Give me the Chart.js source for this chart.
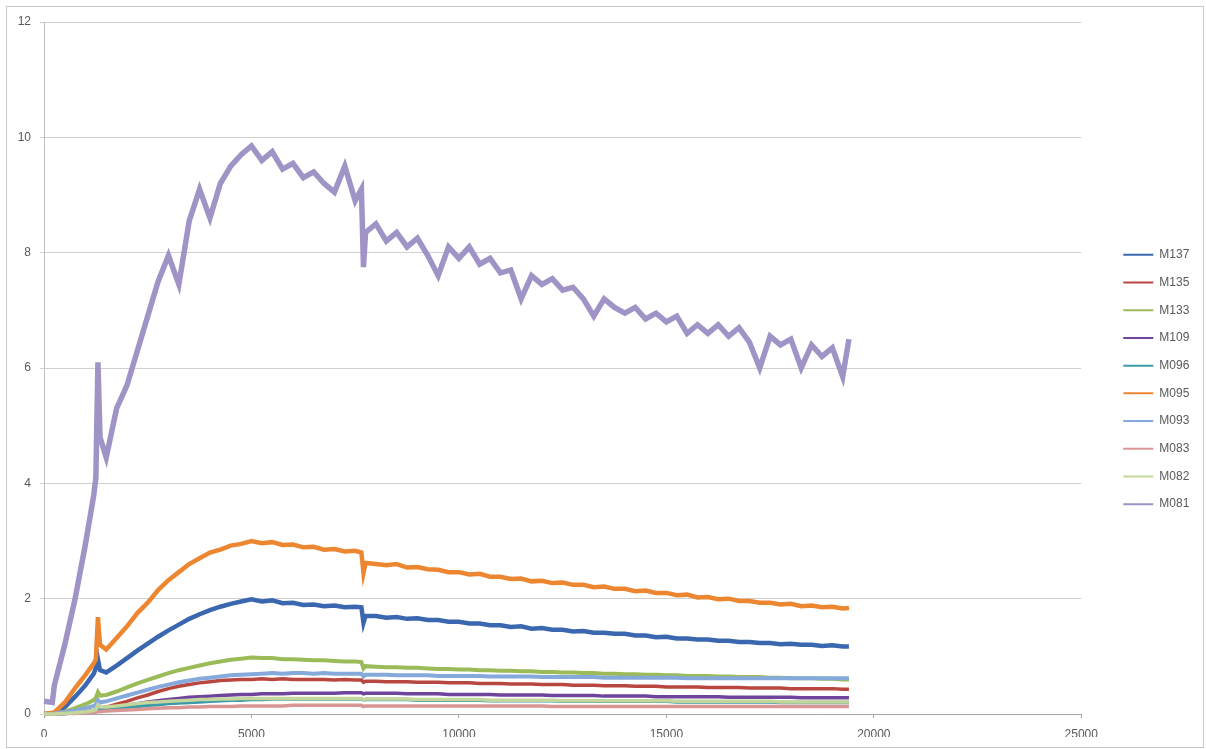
<!DOCTYPE html>
<html>
<head>
<meta charset="utf-8">
<script src="https://cdn.jsdelivr.net/npm/chart.js@4.4.1/dist/chart.umd.min.js"></script>
<style>
  html, body { margin: 0; padding: 0; background: #fff; }
  #frame { position: absolute; left: 6px; top: 6px; width: 1196px; height: 740px; border: 1px solid #c8c8c8; }
  #wrap { position: absolute; left: 0; top: 0; width: 1206px; height: 749px; }
</style>
</head>
<body>
<div id="frame"></div>
<div id="wrap"><canvas id="chart"></canvas></div>
<script>
// sample positions (x axis), shared by every series
const xs = [
  0, 200, 250, 500, 750, 1000, 1200, 1250, 1300, 1350,
  1500, 1750, 2000, 2250, 2500, 2750, 3000, 3250, 3500, 3750, 4000, 4250, 4500, 4750, 5000, 5250, 5500, 5750, 6000, 6250, 6500, 6750, 7000, 7250, 7500,
  7650, 7700, 7750, 8000, 8250, 8500, 8750, 9000, 9250, 9500, 9750, 10000, 10250, 10500, 10750, 11000, 11250, 11500, 11750, 12000, 12250, 12500, 12750, 13000, 13250, 13500,
  13750, 14000, 14250, 14500, 14750, 15000, 15250, 15500, 15750, 16000, 16250, 16500, 16750, 17000, 17250, 17500, 17750, 18000, 18250, 18500, 18750, 19000, 19250, 19400
];

const m137 = [
  0, 0.01, 0.02, 0.12, 0.3, 0.5, 0.7, 0.8, 0.95, 0.76,
  0.72, 0.84, 0.97, 1.1, 1.22, 1.34, 1.45, 1.55, 1.65, 1.73, 1.8, 1.86, 1.91, 1.95, 1.99, 1.95, 1.97, 1.92, 1.93, 1.89, 1.9, 1.87, 1.88, 1.85, 1.86,
  1.85, 1.58, 1.7, 1.7, 1.67, 1.68, 1.65, 1.66, 1.63, 1.63, 1.6, 1.6, 1.57, 1.57, 1.54, 1.54, 1.51, 1.52, 1.48, 1.49, 1.46, 1.46, 1.43, 1.44, 1.41, 1.41,
  1.39, 1.39, 1.36, 1.36, 1.33, 1.34, 1.31, 1.31, 1.29, 1.29, 1.27, 1.27, 1.25, 1.25, 1.23, 1.23, 1.21, 1.22, 1.2, 1.2, 1.18, 1.19, 1.17, 1.17
];
const m135 = [
  0, 0, 0, 0.01, 0.02, 0.04, 0.06, 0.08, 0.12, 0.1,
  0.12, 0.17, 0.22, 0.28, 0.33, 0.39, 0.44, 0.48, 0.51, 0.54, 0.56, 0.58, 0.59, 0.6, 0.6, 0.61, 0.6, 0.61, 0.6, 0.6, 0.6, 0.6, 0.59, 0.6, 0.59,
  0.59, 0.55, 0.57, 0.57, 0.56, 0.56, 0.56, 0.55, 0.55, 0.55, 0.54, 0.54, 0.54, 0.53, 0.53, 0.53, 0.52, 0.52, 0.52, 0.51, 0.51, 0.51, 0.5, 0.5, 0.5, 0.49,
  0.49, 0.49, 0.48, 0.48, 0.48, 0.47, 0.47, 0.47, 0.47, 0.46, 0.46, 0.46, 0.46, 0.45, 0.45, 0.45, 0.45, 0.44, 0.44, 0.44, 0.44, 0.44, 0.43, 0.43
];
const m133 = [
  0, 0, 0.01, 0.04, 0.1, 0.17, 0.24, 0.28, 0.38, 0.32,
  0.33, 0.39, 0.46, 0.53, 0.59, 0.65, 0.71, 0.76, 0.8, 0.84, 0.88, 0.91, 0.94, 0.96, 0.98, 0.97, 0.97, 0.95, 0.95, 0.94, 0.93, 0.93, 0.92, 0.91, 0.91,
  0.9, 0.79, 0.83, 0.82, 0.81, 0.81, 0.8, 0.8, 0.79, 0.78, 0.78, 0.77, 0.77, 0.76, 0.76, 0.75, 0.75, 0.74, 0.74, 0.73, 0.73, 0.72, 0.72, 0.71, 0.71, 0.7,
  0.7, 0.69, 0.69, 0.68, 0.68, 0.67, 0.67, 0.66, 0.66, 0.66, 0.65, 0.65, 0.64, 0.64, 0.64, 0.63, 0.63, 0.62, 0.62, 0.62, 0.61, 0.61, 0.6, 0.6
];
const m109 = [
  0, 0, 0, 0.01, 0.02, 0.03, 0.05, 0.06, 0.09, 0.08,
  0.09, 0.12, 0.15, 0.18, 0.21, 0.23, 0.25, 0.27, 0.29, 0.3, 0.31, 0.32, 0.33, 0.34, 0.34, 0.35, 0.35, 0.35, 0.36, 0.36, 0.36, 0.36, 0.36, 0.37, 0.37,
  0.37, 0.35, 0.36, 0.36, 0.36, 0.36, 0.35, 0.35, 0.35, 0.35, 0.34, 0.34, 0.34, 0.34, 0.34, 0.33, 0.33, 0.33, 0.33, 0.33, 0.32, 0.32, 0.32, 0.32, 0.32, 0.31,
  0.31, 0.31, 0.31, 0.31, 0.3, 0.3, 0.3, 0.3, 0.3, 0.3, 0.3, 0.29, 0.29, 0.29, 0.29, 0.29, 0.29, 0.29, 0.28, 0.28, 0.28, 0.28, 0.28, 0.28
];
const m096 = [
  0, 0, 0, 0.01, 0.02, 0.03, 0.04, 0.05, 0.07, 0.06,
  0.07, 0.09, 0.11, 0.13, 0.15, 0.16, 0.18, 0.19, 0.2, 0.21, 0.22, 0.23, 0.24, 0.24, 0.25, 0.25, 0.26, 0.26, 0.26, 0.26, 0.26, 0.26, 0.26, 0.26, 0.26,
  0.26, 0.24, 0.25, 0.25, 0.25, 0.25, 0.25, 0.24, 0.24, 0.24, 0.24, 0.24, 0.24, 0.24, 0.23, 0.23, 0.23, 0.23, 0.23, 0.23, 0.23, 0.22, 0.22, 0.22, 0.22, 0.22,
  0.22, 0.22, 0.22, 0.22, 0.22, 0.22, 0.21, 0.21, 0.21, 0.21, 0.21, 0.21, 0.21, 0.21, 0.21, 0.21, 0.2, 0.2, 0.2, 0.2, 0.2, 0.2, 0.2, 0.2
];
const m095 = [
  0, 0.02, 0.03, 0.2, 0.45, 0.68, 0.88, 0.95, 1.68, 1.2,
  1.12, 1.32, 1.52, 1.75, 1.93, 2.15, 2.32, 2.46, 2.6, 2.7, 2.8, 2.85, 2.92, 2.95, 3.0, 2.96, 2.98, 2.93, 2.94, 2.89, 2.9, 2.85, 2.86, 2.82, 2.83,
  2.8, 2.45, 2.62, 2.6, 2.58, 2.6, 2.54, 2.55, 2.51, 2.5, 2.46, 2.46, 2.42, 2.43, 2.38, 2.38, 2.34, 2.35, 2.3, 2.31, 2.27, 2.28, 2.24, 2.24, 2.2, 2.21,
  2.17, 2.17, 2.13, 2.14, 2.1, 2.1, 2.06, 2.07, 2.02, 2.03, 1.99, 2.0, 1.96, 1.96, 1.93, 1.93, 1.9, 1.91, 1.87, 1.88, 1.85, 1.86, 1.83, 1.84
];
const m093 = [
  0, 0, 0.01, 0.03, 0.06, 0.1, 0.14, 0.17, 0.24, 0.2,
  0.22, 0.27, 0.32, 0.37, 0.42, 0.47, 0.51, 0.55, 0.58, 0.61, 0.63, 0.65, 0.67, 0.68, 0.69, 0.7, 0.71, 0.7, 0.71, 0.71, 0.7, 0.71, 0.7, 0.7, 0.7,
  0.7, 0.65, 0.68, 0.68, 0.68, 0.67, 0.67, 0.67, 0.67, 0.66, 0.66, 0.66, 0.66, 0.66, 0.65, 0.65, 0.65, 0.65, 0.65, 0.64, 0.64, 0.64, 0.64, 0.64, 0.64, 0.63,
  0.63, 0.63, 0.63, 0.63, 0.63, 0.63, 0.63, 0.62, 0.62, 0.62, 0.62, 0.62, 0.62, 0.62, 0.62, 0.62, 0.62, 0.62, 0.62, 0.62, 0.62, 0.62, 0.62, 0.62
];
const m083 = [
  0, 0, 0, 0.01, 0.01, 0.02, 0.03, 0.03, 0.05, 0.04,
  0.05, 0.06, 0.07, 0.08, 0.09, 0.1, 0.11, 0.11, 0.12, 0.12, 0.13, 0.13, 0.13, 0.14, 0.14, 0.14, 0.14, 0.14, 0.15, 0.15, 0.15, 0.15, 0.15, 0.15, 0.15,
  0.15, 0.13, 0.14, 0.14, 0.14, 0.14, 0.14, 0.14, 0.14, 0.14, 0.14, 0.14, 0.14, 0.14, 0.14, 0.14, 0.14, 0.14, 0.14, 0.14, 0.13, 0.13, 0.13, 0.13, 0.13, 0.13,
  0.13, 0.13, 0.13, 0.13, 0.13, 0.13, 0.13, 0.13, 0.13, 0.13, 0.13, 0.13, 0.13, 0.13, 0.13, 0.13, 0.13, 0.13, 0.13, 0.13, 0.13, 0.13, 0.13, 0.13
];
const m082 = [
  0, 0, 0, 0.01, 0.02, 0.04, 0.06, 0.08, 0.16, 0.12,
  0.12, 0.14, 0.16, 0.18, 0.2, 0.21, 0.22, 0.23, 0.24, 0.25, 0.25, 0.26, 0.26, 0.27, 0.27, 0.27, 0.27, 0.27, 0.27, 0.27, 0.27, 0.27, 0.27, 0.27, 0.27,
  0.27, 0.24, 0.26, 0.26, 0.26, 0.26, 0.26, 0.25, 0.25, 0.25, 0.25, 0.25, 0.25, 0.25, 0.24, 0.24, 0.24, 0.24, 0.24, 0.24, 0.24, 0.23, 0.23, 0.23, 0.23, 0.23,
  0.23, 0.23, 0.23, 0.23, 0.23, 0.23, 0.22, 0.22, 0.22, 0.22, 0.22, 0.22, 0.22, 0.22, 0.22, 0.22, 0.21, 0.21, 0.21, 0.21, 0.21, 0.21, 0.21, 0.21
];
const m081 = [
  0.22, 0.2, 0.5, 1.2, 2.0, 2.95, 3.8, 4.1, 6.1, 4.8,
  4.45, 5.3, 5.7, 6.3, 6.9, 7.5, 7.95, 7.45, 8.55, 9.1, 8.6, 9.2, 9.5, 9.7, 9.85, 9.6, 9.75, 9.45, 9.55, 9.3, 9.4, 9.2, 9.05, 9.5, 8.9,
  9.1, 7.75, 8.35, 8.5, 8.2, 8.35, 8.1, 8.25, 7.95, 7.6, 8.1, 7.9, 8.1, 7.8, 7.9, 7.65, 7.7, 7.2, 7.6, 7.45, 7.55, 7.35, 7.4, 7.2, 6.9, 7.2,
  7.05, 6.95, 7.05, 6.85, 6.95, 6.8, 6.9, 6.6, 6.75, 6.6, 6.75, 6.55, 6.7, 6.45, 6.0, 6.55, 6.4, 6.5, 6.0, 6.4, 6.2, 6.35, 5.85, 6.5
];

const seriesNames = ['M137', 'M135', 'M133', 'M109', 'M096', 'M095', 'M093', 'M083', 'M082', 'M081'];
const seriesValues = [m137, m135, m133, m109, m096, m095, m093, m083, m082, m081];
const seriesColors = ['#3a67b0', '#b9473f', '#9bbb59', '#6e449c', '#3b9aaa', '#ec8631', '#86a9dc', '#d99694', '#c3d69b', '#a093c5'];
// the originals are noisy, so the traces read as thick bands
const seriesWidths = [4.5, 3.5, 4, 3.5, 3.5, 4.5, 4, 3.5, 3.5, 5.5];

const yTicks = { min: 0, max: 12, step: 2 };
const xTicks = { min: 0, max: 25000, step: 5000 };

const textColor = '#595959';
const font = { family: 'Liberation Sans', size: 12 };

const datasets = seriesNames.map((name, i) => ({
  label: name,
  data: seriesValues[i],
  borderColor: seriesColors[i],
  backgroundColor: seriesColors[i],
  borderWidth: seriesWidths[i],
  borderJoinStyle: 'miter',
  pointRadius: 0,
  tension: 0,
  fill: false,
  clip: false,
  // later series sit on top, like the original
  order: seriesNames.length - i
}));

new Chart(document.getElementById('chart'), {
  type: 'line',
  data: { labels: xs, datasets: datasets },
  options: {
    responsive: true,
    maintainAspectRatio: false,
    animation: false,
    layout: { padding: { top: 22, right: 6.7, bottom: 12, left: 0 } },
    plugins: {
      tooltip: { enabled: false },
      legend: {
        position: 'right',
        align: 'center',
        labels: {
          usePointStyle: true,
          pointStyle: 'line',
          pointStyleWidth: 30,
          padding: 15.7,
          color: textColor,
          font: font,
          sort: (a, b) => a.datasetIndex - b.datasetIndex,
          generateLabels: chart => Chart.defaults.plugins.legend.labels.generateLabels(chart)
            .map(item => Object.assign(item, { lineWidth: 2 }))
        }
      }
    },
    scales: {
      x: {
        type: 'linear',
        min: xTicks.min,
        max: xTicks.max,
        ticks: { stepSize: xTicks.step, callback: v => String(v), color: textColor, font: font, padding: 9, maxRotation: 0 },
        grid: { drawOnChartArea: false, drawTicks: true, tickLength: 4, color: '#a6a6a6' },
        border: { display: true, color: '#a6a6a6' },
        afterFit: s => { s.height = 23; }
      },
      y: {
        min: yTicks.min,
        max: yTicks.max,
        ticks: { stepSize: yTicks.step, color: textColor, font: font, padding: 9 },
        grid: { color: '#d0d0d0', drawTicks: true, tickLength: 4 },
        border: { display: true, color: '#bfbfbf' },
        afterFit: s => { s.width = 44; }
      },
      // empty axis that only keeps the gap between plot and legend
      gap: {
        position: 'right',
        min: 0,
        max: 1,
        grid: { display: false },
        ticks: { display: false },
        border: { display: false },
        afterFit: s => { s.width = 26.3; }
      }
    }
  }
});
</script>
</body>
</html>
